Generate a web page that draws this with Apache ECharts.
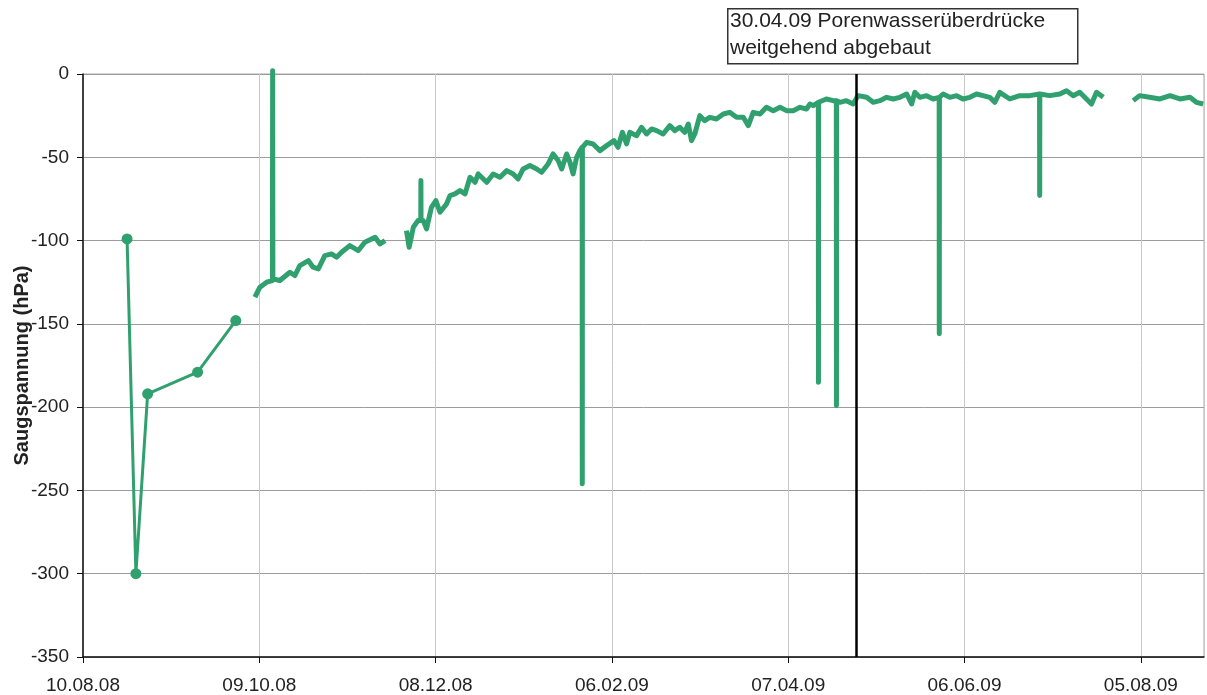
<!DOCTYPE html>
<html>
<head>
<meta charset="utf-8">
<script src="https://cdn.jsdelivr.net/npm/echarts@6/dist/echarts.min.js"></script>
<style>
  html, body { margin: 0; padding: 0; background: #fff; }
  #chart { width: 1207px; height: 695px; }
</style>
</head>
<body>
<div id="chart"></div>
<script>
  // manual readings (with markers)
  var manualTimes = ['2008-08-25', '2008-08-28', '2008-09-01', '2008-09-18', '2008-10-01'];
  var manualValues = [-99, -300, -192, -179, -148];

  // logger readings, null = no data
  var loggerTimes = [
    '2008-10-07 12:00', '2008-10-09 05:00', '2008-10-11 12:00', '2008-10-13 11:00', '2008-10-13 13:00', '2008-10-13 15:00',
    '2008-10-16 00:00', '2008-10-19 10:00', '2008-10-21 02:00', '2008-10-22 19:00', '2008-10-25 17:00', '2008-10-27 07:00',
    '2008-10-29 02:00', '2008-10-31 07:00', '2008-11-02 14:00', '2008-11-04 07:00', '2008-11-06 00:00', '2008-11-08 19:00',
    '2008-11-11 17:00', '2008-11-13 22:00', '2008-11-17 10:00', '2008-11-19 02:00', '2008-11-20 19:00',
    '2008-11-24 00:00',
    '2008-11-28 02:00', '2008-11-29 00:00', '2008-11-30 10:00', '2008-12-02 00:00', '2008-12-02 23:00', '2008-12-03 00:00',
    '2008-12-03 01:00', '2008-12-03 19:00', '2008-12-04 22:00', '2008-12-06 14:00', '2008-12-08 02:00', '2008-12-09 12:00',
    '2008-12-11 17:00', '2008-12-12 22:00', '2008-12-14 14:00', '2008-12-16 07:00', '2008-12-18 00:00', '2008-12-19 17:00',
    '2008-12-21 10:00', '2008-12-22 12:00', '2008-12-25 10:00', '2008-12-27 14:00', '2008-12-29 22:00', '2009-01-01 05:00',
    '2009-01-03 10:00', '2009-01-05 02:00', '2009-01-06 19:00', '2009-01-09 02:00', '2009-01-11 10:00', '2009-01-13 02:00',
    '2009-01-15 07:00', '2009-01-17 00:00', '2009-01-18 17:00', '2009-01-19 22:00', '2009-01-21 14:00', '2009-01-22 17:00',
    '2009-01-23 19:00', '2009-01-25 00:00', '2009-01-26 02:00', '2009-01-26 21:00', '2009-01-26 22:00', '2009-01-26 23:00',
    '2009-01-28 10:00', '2009-01-30 14:00', '2009-02-01 22:00', '2009-02-04 05:00', '2009-02-06 17:00', '2009-02-08 02:00',
    '2009-02-09 14:00', '2009-02-11 00:00', '2009-02-12 02:00', '2009-02-14 10:00', '2009-02-16 02:00', '2009-02-17 19:00',
    '2009-02-19 12:00', '2009-02-21 05:00', '2009-02-23 10:00', '2009-02-25 17:00', '2009-02-27 10:00', '2009-03-01 02:00',
    '2009-03-02 19:00', '2009-03-04 00:00', '2009-03-05 02:00', '2009-03-06 05:00', '2009-03-07 22:00', '2009-03-09 14:00',
    '2009-03-11 07:00', '2009-03-13 14:00', '2009-03-15 22:00', '2009-03-18 02:00', '2009-03-20 10:00', '2009-03-22 17:00',
    '2009-03-24 10:00', '2009-03-26 02:00', '2009-03-28 10:00', '2009-03-30 14:00', '2009-04-01 22:00', '2009-04-04 05:00',
    '2009-04-06 10:00', '2009-04-08 17:00', '2009-04-11 00:00', '2009-04-13 05:00', '2009-04-14 10:00', '2009-04-15 12:00',
    '2009-04-17 06:00', '2009-04-17 07:00', '2009-04-17 08:00', '2009-04-17 19:00', '2009-04-20 00:00', '2009-04-22 07:00',
    '2009-04-23 09:00', '2009-04-23 10:00', '2009-04-23 11:00', '2009-04-24 14:00', '2009-04-26 19:00', '2009-04-29 02:00',
    '2009-04-30 19:00', '2009-05-03 17:00', '2009-05-05 22:00', '2009-05-08 05:00', '2009-05-10 12:00', '2009-05-12 17:00',
    '2009-05-15 00:00', '2009-05-17 07:00', '2009-05-19 00:00', '2009-05-20 02:00', '2009-05-21 19:00', '2009-05-24 02:00',
    '2009-05-26 07:00', '2009-05-28 09:00', '2009-05-28 10:00', '2009-05-28 11:00', '2009-05-29 17:00', '2009-06-01 00:00',
    '2009-06-03 07:00', '2009-06-05 12:00', '2009-06-07 19:00', '2009-06-10 02:00', '2009-06-12 07:00', '2009-06-14 14:00',
    '2009-06-16 07:00', '2009-06-18 00:00', '2009-06-21 10:00', '2009-06-24 19:00', '2009-06-28 05:00', '2009-07-01 13:00',
    '2009-07-01 14:00', '2009-07-01 15:00', '2009-07-05 00:00', '2009-07-08 10:00', '2009-07-10 17:00', '2009-07-13 00:00',
    '2009-07-15 05:00', '2009-07-17 12:00', '2009-07-19 05:00', '2009-07-20 22:00', '2009-07-23 05:00',
    '2009-07-28 00:00',
    '2009-08-02 10:00', '2009-08-04 14:00', '2009-08-08 00:00', '2009-08-11 12:00', '2009-08-14 22:00', '2009-08-18 07:00',
    '2009-08-21 17:00', '2009-08-23 22:00', '2009-08-26 05:00'
  ];
  var loggerValues = [
    -134, -128, -125, -124, 2, -123,
    -124, -119, -121, -115, -112, -116,
    -117, -109, -108, -110, -107, -103,
    -106, -101, -98, -102, -100,
    null,
    -94, -104, -92, -88, -88, -64,
    -88, -88, -93, -80, -76, -83,
    -78, -73, -72, -70, -72, -62,
    -65, -60, -65, -60, -62, -58,
    -60, -63, -57, -55, -57, -59,
    -54, -48, -52, -57, -48, -53,
    -60, -50, -46, -44, -246, -44,
    -41, -42, -46, -43, -40, -44,
    -35, -42, -35, -37, -32, -36,
    -33, -34, -36, -31, -34, -32,
    -35, -30, -40, -36, -25, -28,
    -26, -27, -24, -23, -26, -26,
    -31, -23, -24, -20, -22, -20,
    -22, -22, -20, -21, -18, -19,
    -17, -185, -17, -17, -15, -16,
    -16, -199, -16, -17, -16, -18,
    -13, -14, -17, -16, -14, -15,
    -14, -12, -18, -11, -14, -13,
    -15, -14, -156, -14, -12, -14,
    -13, -15, -14, -12, -13, -14,
    -17, -11, -15, -13, -13, -12,
    -73, -12, -13, -12, -10, -13,
    -11, -15, -18, -11, -14,
    null,
    -16, -13, -14, -15, -13, -15,
    -14, -17, -18
  ];

  var startDate = '2008-08-10';
  var axisDays = { min: 0, max: 381.5, interval: 60 };
  var yTicks = { min: -350, max: 0, interval: 50 };
  var markerDate = '2009-04-30';
  var noteLines = ['30.04.09 Porenwasserüberdrücke', 'weitgehend abgebaut'];

  function toUtc(s) {
    var parts = s.split(' ');
    var d = parts[0].split('-').map(Number);
    var h = parts[1] ? Number(parts[1].split(':')[0]) : 0;
    return Date.UTC(d[0], d[1] - 1, d[2], h);
  }
  var t0 = toUtc(startDate);
  function dayOf(s) {
    return (toUtc(s) - t0) / 86400000;
  }
  function pad(n) {
    return n < 10 ? '0' + n : '' + n;
  }
  function labelOf(v) {
    var d = new Date(t0 + Math.round(v) * 86400000);
    return pad(d.getUTCDate()) + '.' + pad(d.getUTCMonth() + 1) + '.' + pad(d.getUTCFullYear() % 100);
  }

  var green = '#2fa06e';
  var font = "'Liberation Sans', Arial, sans-serif";

  var manualData = manualTimes.map(function (t, i) {
    return [dayOf(t), manualValues[i]];
  });
  var loggerData = loggerTimes.map(function (t, i) {
    return loggerValues[i] === null ? [dayOf(t), '-'] : [dayOf(t), loggerValues[i]];
  });

  var chart = echarts.init(document.getElementById('chart'));
  chart.setOption({
    animation: false,
    backgroundColor: '#fff',
    grid: {
      left: 83,
      right: 3,
      top: 74,
      bottom: 38,
      outerBoundsMode: 'none',
      show: true,
      borderColor: '#a8a8a8',
      borderWidth: 1
    },
    xAxis: {
      type: 'value',
      min: axisDays.min,
      max: axisDays.max,
      interval: axisDays.interval,
      axisLine: { onZero: false, lineStyle: { color: '#111', width: 1.5 } },
      axisTick: { length: 6, lineStyle: { color: '#111' } },
      axisLabel: {
        margin: 19,
        color: '#222',
        fontSize: 19,
        fontFamily: font,
        showMaxLabel: false,
        formatter: function (v) {
          return v % 60 === 0 ? labelOf(v) : '';
        }
      },
      splitLine: { show: true, lineStyle: { color: '#c8c8c8', width: 1 } }
    },
    yAxis: {
      type: 'value',
      min: yTicks.min,
      max: yTicks.max,
      interval: yTicks.interval,
      name: 'Saugspannung (hPa)',
      nameLocation: 'middle',
      nameGap: 51,
      nameMoveOverlap: false,
      nameTextStyle: { fontSize: 20, fontWeight: 'bold', color: '#222', fontFamily: font },
      axisLine: { show: true, lineStyle: { color: '#111', width: 1.5 } },
      axisTick: { show: true, length: 6, lineStyle: { color: '#111' } },
      axisLabel: { margin: 14, color: '#222', fontSize: 19, fontFamily: font },
      splitLine: { show: true, lineStyle: { color: '#9c9c9c', width: 1 } }
    },
    series: [
      {
        type: 'line',
        data: manualData,
        symbol: 'circle',
        symbolSize: 11,
        itemStyle: { color: green },
        lineStyle: { color: green, width: 3 },
        z: 3
      },
      {
        type: 'line',
        data: loggerData,
        showSymbol: false,
        clip: false,
        connectNulls: false,
        lineStyle: { color: green, width: 5, join: 'round' },
        z: 3,
        markLine: {
          silent: true,
          symbol: 'none',
          label: { show: false },
          lineStyle: { color: '#000', width: 2.5, type: 'solid' },
          data: [{ xAxis: dayOf(markerDate) }],
          z: 4
        }
      }
    ],
    graphic: [
      {
        type: 'rect',
        left: 727,
        top: 8,
        shape: { width: 350, height: 55 },
        style: { fill: '#fff', stroke: '#333', lineWidth: 1.5 }
      },
      {
        type: 'text',
        left: 730,
        top: 8,
        style: {
          text: noteLines.join('\n'),
          font: '21px ' + font,
          fill: '#222',
          lineHeight: 27
        }
      }
    ]
  });
</script>
</body>
</html>
